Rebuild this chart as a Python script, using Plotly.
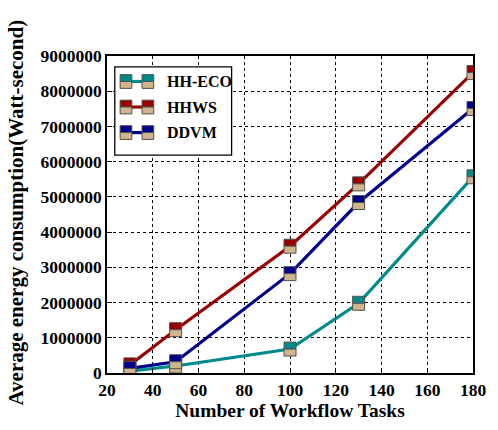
import plotly.graph_objects as go

tasks = [30, 50, 100, 130, 180]
hh_eco = [50000, 200000, 680000, 1980000, 5570000]
hhws = [230000, 1230000, 3600000, 5370000, 8530000]
ddvm = [130000, 320000, 2820000, 4840000, 7510000]

series_names = ["HH-ECO", "HHWS", "DDVM"]
series_vals = [hh_eco, hhws, ddvm]
series_colors = ["#008B8B", "#990000", "#00008B"]
TAN = "#D2B48C"
EDGE = "#505050"

x_ticks = [20, 40, 60, 80, 100, 120, 140, 160, 180]
y_ticks = [0, 1000000, 2000000, 3000000, 4000000, 5000000, 6000000, 7000000, 8000000, 9000000]

FONT = "Liberation Serif"

# plot area in pixels
L, R, T, B = 107, 483, 56, 379
W, H = 498, 430

fig = go.Figure()
shapes = []
annotations = []

for name, vals, col in zip(series_names, series_vals, series_colors):
    fig.add_trace(go.Scatter(x=tasks, y=vals, mode="lines", name=name,
                             line=dict(color=col, width=3.2), showlegend=False))
    for xv, yv in zip(tasks, vals):
        shapes.append(dict(type="rect", xref="x", yref="y", xsizemode="pixel", ysizemode="pixel",
                           xanchor=xv, yanchor=yv, x0=-6, x1=6, y0=0, y1=7,
                           fillcolor=col, line=dict(color=EDGE, width=1), layer="above"))
        shapes.append(dict(type="rect", xref="x", yref="y", xsizemode="pixel", ysizemode="pixel",
                           xanchor=xv, yanchor=yv, x0=-6, x1=6, y0=-7, y1=0,
                           fillcolor=TAN, line=dict(color=EDGE, width=1), layer="above"))

def px(p):
    return (p - L) / (R - L)

def py(p):
    return (B - p) / (B - T)

# manual legend
shapes.append(dict(type="rect", xref="paper", yref="paper", x0=px(115), x1=px(235), y0=py(157), y1=py(67),
                   fillcolor="white", line=dict(color="black", width=1.3), layer="above"))
entry_y = [82, 108, 134]
for name, col, ey in zip(series_names, series_colors, entry_y):
    shapes.append(dict(type="line", xref="paper", yref="paper", x0=px(127), x1=px(149), y0=py(ey), y1=py(ey),
                       line=dict(color=col, width=3.2), layer="above"))
    for cx in (126.5, 149):
        shapes.append(dict(type="rect", xref="paper", yref="paper", x0=px(cx - 6), x1=px(cx + 6),
                           y0=py(ey), y1=py(ey - 7), fillcolor=col, line=dict(color=EDGE, width=1), layer="above"))
        shapes.append(dict(type="rect", xref="paper", yref="paper", x0=px(cx - 6), x1=px(cx + 6),
                           y0=py(ey + 7), y1=py(ey), fillcolor=TAN, line=dict(color=EDGE, width=1), layer="above"))
    annotations.append(dict(xref="paper", yref="paper", x=px(167), y=py(ey), text="<b>%s</b>" % name,
                            showarrow=False, xanchor="left", yanchor="middle",
                            font=dict(family=FONT, size=16, color="black")))

# y axis title
annotations.append(dict(xref="paper", yref="paper", x=px(14), y=py(215),
                        text="<b>Average energy consumption(Watt-second)</b>", textangle=-90,
                        showarrow=False, xanchor="center", yanchor="middle",
                        font=dict(family=FONT, size=21, color="black")))

fig.update_layout(
    width=W, height=H,
    margin=dict(l=L, r=W - R, t=T, b=H - B),
    plot_bgcolor="white", paper_bgcolor="white",
    shapes=shapes, annotations=annotations,
    showlegend=False,
    font=dict(family=FONT, color="black"),
)

fig.update_xaxes(
    range=[20, 180], tickvals=x_ticks, ticktext=["<b>%d</b>" % v for v in x_ticks],
    tickfont=dict(family=FONT, size=17.5, color="black"),
    ticks="inside", ticklen=5, tickcolor="black",
    showgrid=True, gridcolor="black", griddash="dot", gridwidth=1,
    showline=True, linecolor="black", linewidth=1.5, mirror=True,
    zeroline=False,
    title=dict(text="<b>Number of Workflow Tasks</b>", font=dict(family=FONT, size=19.5, color="black"), standoff=5),
)
fig.update_yaxes(
    range=[0, 9000000], tickvals=y_ticks, ticktext=["<b>%d</b>" % v for v in y_ticks],
    tickfont=dict(family=FONT, size=17.5, color="black"),
    ticks="inside", ticklen=5, tickcolor="black",
    showgrid=True, gridcolor="black", griddash="dot", gridwidth=1,
    showline=True, linecolor="black", linewidth=1.5, mirror=True,
    zeroline=False,
)

fig.write_html("out.html")
